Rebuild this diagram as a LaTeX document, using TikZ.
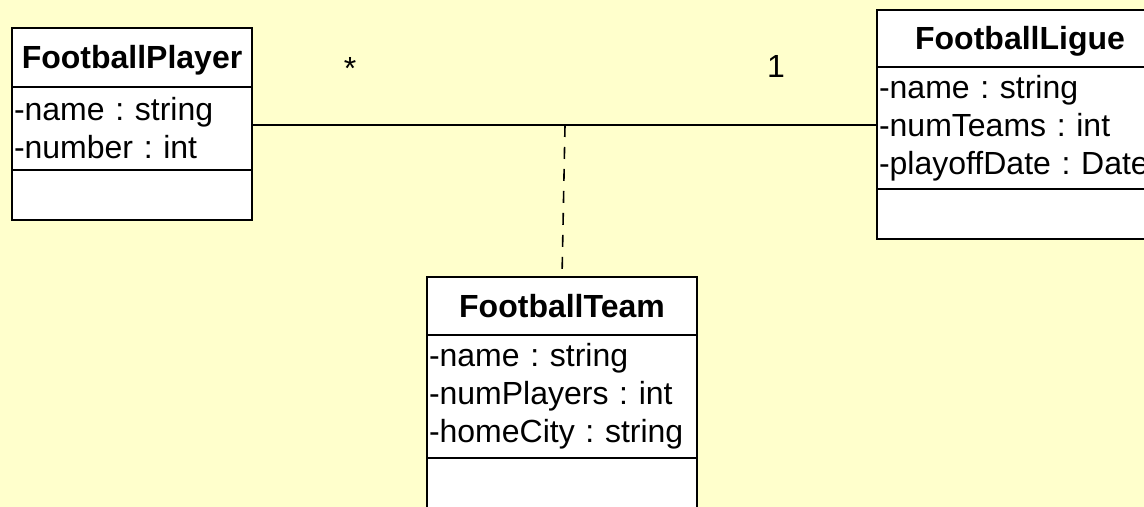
\documentclass[tikz,border=0pt]{standalone}
\usepackage{fontspec}
\setmainfont{Liberation Sans}
\usepackage{xcolor}
\usetikzlibrary{positioning}
\definecolor{paper}{HTML}{FFFFCC}
\frenchspacing

\begin{document}
\begin{tikzpicture}[%詳細設定
          x=0.5pt,y=-0.5pt,
          every node/.style={
              font=\fontsize{16pt}{19pt}\selectfont
            },
          classhead/.style 2 args={
              draw,line width=1pt,fill=white,
              inner sep=0pt,outer sep=0pt,
              minimum width=#1,minimum height=#2,
              text height=13pt,text depth=1.7pt,
              anchor=north west,
              font=\fontsize{16pt}{19pt}\selectfont\bfseries
            },
          classattr/.style 2 args={
              draw,line width=1pt,fill=white,
              inner xsep=1pt,inner ysep=0pt,outer sep=0pt,
              minimum width=#1,minimum height=#2,
              text width=#1-2pt,align=left
            },
          classops/.style={
              draw,line width=1pt,fill=white,
              inner sep=0pt,outer sep=0pt,
              minimum width=#1,minimum height=25pt
            }
        ]

        % 背景
        \useasboundingbox (0,0) rectangle (1144,507);
        \clip (0,0) rectangle (1144,507);
        \fill[paper] (0,0) rectangle (1144,507);

        % FootballPlayer
        \node[classhead={120pt}{29.5pt}] (phead) at (12,28) {FootballPlayer};
        \node[classattr={120pt}{41.5pt},below=0pt of phead] (pattr) {-name : string\\-number : int};
        \node[classops=120pt,below=0pt of pattr] (pops) {};

        % FootballLigue
        \node[classhead={143pt}{28.5pt}] (lhead) at (877,10) {FootballLigue};
        \node[classattr={143pt}{61pt},below=0pt of lhead] (lattr) {-name : string\\-numTeams : int\\-playoffDate : Date};
        \node[classops=143pt,below=0pt of lattr] (lops) {};

        % FootballTeam
        \node[classhead={135pt}{29pt}] (thead) at (427,277) {FootballTeam};
        \node[classattr={135pt}{61.5pt},below=0pt of thead] (tattr) {-name : string\\-numPlayers : int\\-homeCity : string};
        \node[classops=135pt,below=0pt of tattr] (tops) {};

        % 関連
        \coordinate (assoc) at (565,125);
        \draw[line width=0.8pt] (pattr.east |- assoc) -- (lattr.west |- assoc);
        \draw[line width=0.8pt,dash pattern=on 6pt off 5pt] (assoc) -- (thead.north);

        % 多重度
        \node[anchor=base] (many) at (350,80) {*};
        \node[anchor=base] (one) at (776,78) {1};

      \end{tikzpicture}
\end{document}
